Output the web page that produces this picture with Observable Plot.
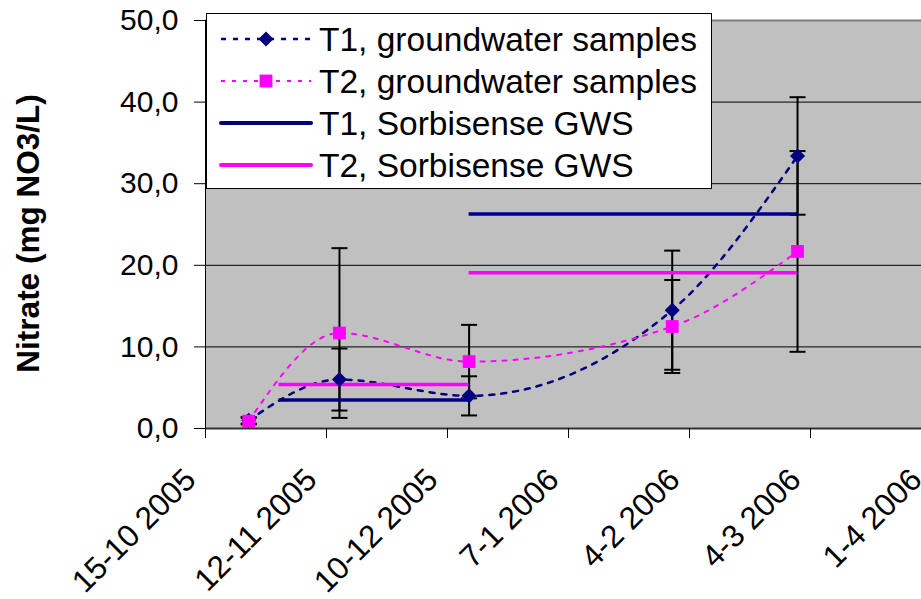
<!DOCTYPE html>
<html><head><meta charset="utf-8">
<script src="https://cdn.jsdelivr.net/npm/d3@7"></script>
<script src="https://cdn.jsdelivr.net/npm/@observablehq/plot@0.6"></script>
<style>
body{margin:0;background:#fff;overflow:hidden}
#wrap{position:relative;width:921px;height:599px;overflow:hidden;font-family:"Liberation Sans",Arial,sans-serif}
#wrap svg.plot{position:absolute;left:0;top:0;max-width:none !important;width:971px !important;height:599px !important}
#legend{position:absolute;left:206px;top:13px;width:504px;height:174px;background:#fff;border:1px solid #000;box-sizing:content-box}
</style></head><body><div id="wrap"></div>
<script>
// ---- data ----
const sampleDates = ["2005-10-25","2005-11-15","2005-12-15","2006-01-31","2006-03-01"];
const t1Samples = [1.0, 6.0, 4.0, 14.5, 33.4];
const t1Errors  = [0.4, 3.8, 2.4, 7.3, 7.2];
const t2Samples = [0.9, 11.7, 8.2, 12.5, 21.7];
const t2Errors  = [0.4, 10.4, 4.5, 5.7, 12.3];
const gwsStart = ["2005-11-01","2005-12-15"];
const gwsEnd   = ["2005-12-15","2006-03-01"];
const t1Gws = [3.5, 26.3];
const t2Gws = [5.4, 19.1];
const xTicks = ["2005-10-15","2005-11-12","2005-12-10","2006-01-07","2006-02-04","2006-03-04","2006-04-01"];
const yTicks = [0, 10, 20, 30, 40, 50];
const gridValues = [10, 20, 30, 40];
const seriesNames = ["T1, groundwater samples","T2, groundwater samples","T1, Sorbisense GWS","T2, Sorbisense GWS"];
const yLabel = "Nitrate (mg NO3/L)";
const NAVY = "#000080", MAGENTA = "#FF00FF";

const D = s => new Date(s + "T00:00:00Z");
const t1 = sampleDates.map((d, i) => ({date: D(d), v: t1Samples[i], e: t1Errors[i]}));
const t2 = sampleDates.map((d, i) => ({date: D(d), v: t2Samples[i], e: t2Errors[i]}));
const g1 = gwsStart.map((d, i) => ({x1: D(d), x2: D(gwsEnd[i]), v: t1Gws[i]}));
const g2 = gwsStart.map((d, i) => ({x1: D(d), x2: D(gwsEnd[i]), v: t2Gws[i]}));
const errs = [...t1, ...t2];
const caps = errs.flatMap(d => [{date: d.date, v: d.v + d.e}, {date: d.date, v: d.v - d.e}]);

const capSymbol = {draw(ctx, size) { const r = Math.sqrt(size / Math.PI); ctx.moveTo(-r, 0); ctx.lineTo(r, 0); }};
const fmtY = d => d3.format(".1f")(d).replace(".", ",");
const fmtX = d3.utcFormat("%-d-%-m %Y");
const font = "Liberation Sans, Arial, sans-serif";

const chart = Plot.plot({
  width: 971, height: 599,
  marginLeft: 205, marginRight: 40, marginTop: 20, marginBottom: 171,
  style: {fontFamily: font, background: "transparent", color: "black", overflow: "visible", maxWidth: "none"},
  x: {type: "utc", domain: [D("2005-10-15"), D("2006-04-01")]},
  y: {domain: [0, 50]},
  marks: [
    Plot.frame({fill: "#C0C0C0", stroke: null}),
    Plot.ruleY(gridValues, {stroke: "black", strokeWidth: 1}),
    Plot.ruleY([50], {stroke: "#808080", strokeWidth: 2}),
    Plot.ruleX(errs, {x: "date", y1: d => d.v - d.e, y2: d => d.v + d.e, stroke: "black", strokeWidth: 2}),
    Plot.dot(caps, {x: "date", y: "v", symbol: capSymbol, r: 8, fill: "none", stroke: "black", strokeWidth: 2}),
    Plot.line(t1, {x: "date", y: "v", curve: "monotone-x", stroke: NAVY, strokeWidth: 2.5, strokeDasharray: "5,7"}),
    Plot.line(t2, {x: "date", y: "v", curve: "monotone-x", stroke: MAGENTA, strokeWidth: 2, strokeDasharray: "4,7"}),
    Plot.ruleY(g1, {y: "v", x1: "x1", x2: "x2", stroke: NAVY, strokeWidth: 3.5}),
    Plot.ruleY(g2, {y: "v", x1: "x1", x2: "x2", stroke: MAGENTA, strokeWidth: 3.5}),
    Plot.dot(t1, {x: "date", y: "v", symbol: "diamond2", r: 6.8, fill: NAVY, stroke: null}),
    Plot.dot(t2, {x: "date", y: "v", symbol: "square", r: 7.2, fill: MAGENTA, stroke: null}),
    Plot.ruleY([0], {stroke: "#333", strokeWidth: 2}),
    Plot.ruleX([D("2005-10-15")], {stroke: "black", strokeWidth: 1}),
    Plot.axisY({ticks: yTicks, tickFormat: fmtY, tickSize: 11, tickPadding: 16, fontSize: 30, label: null, stroke: "black"}),
    // tick marks only
    Plot.axisX({ticks: xTicks.map(D), tickFormat: () => "", tickSize: 10, label: null, stroke: "black"}),
    // rotated labels only
    Plot.axisX({ticks: xTicks.map(D), tickFormat: fmtX, tickRotate: -45, tickSize: 0, tickPadding: 46, dx: -15, fontSize: 31.5, label: null}),
    Plot.text([yLabel], {text: d => d, frameAnchor: "left", textAnchor: "middle", dx: -177, dy: 9, rotate: -90, fontSize: 31.5, fontWeight: "bold", fill: "black"})
  ]
});
chart.classList.add("plot");
const wrap = document.getElementById("wrap");
wrap.appendChild(chart);

// ---- legend ----
const lg = document.createElement("div");
lg.id = "legend";
const rowsY = [25, 67, 109, 151];
let svg = `<svg width="504" height="174" xmlns="http://www.w3.org/2000/svg" style="font-family:${font}">`;
const styles = [
  {c: NAVY, dash: "5,7", w: 2.5, marker: "diamond"},
  {c: MAGENTA, dash: "4,7", w: 2, marker: "square"},
  {c: NAVY, dash: null, w: 4, marker: null},
  {c: MAGENTA, dash: null, w: 4, marker: null}
];
seriesNames.forEach((name, i) => {
  const y = rowsY[i], s = styles[i];
  svg += `<line x1="14" x2="104" y1="${y}" y2="${y}" stroke="${s.c}" stroke-width="${s.w}" ${s.dash ? `stroke-dasharray="${s.dash}"` : `stroke-linecap="round"`}/>`;
  if (s.marker === "diamond") svg += `<path d="M59,${y-7.5}L66.5,${y}L59,${y+7.5}L51.5,${y}Z" fill="${s.c}"/>`;
  if (s.marker === "square") svg += `<rect x="${59-6.4}" y="${y-6.4}" width="12.8" height="12.8" fill="${s.c}"/>`;
  svg += `<text x="112" y="${y + 12}" font-size="33.5" fill="black">${name}</text>`;
});
svg += `</svg>`;
lg.innerHTML = svg;
wrap.appendChild(lg);
</script>
</body></html>
